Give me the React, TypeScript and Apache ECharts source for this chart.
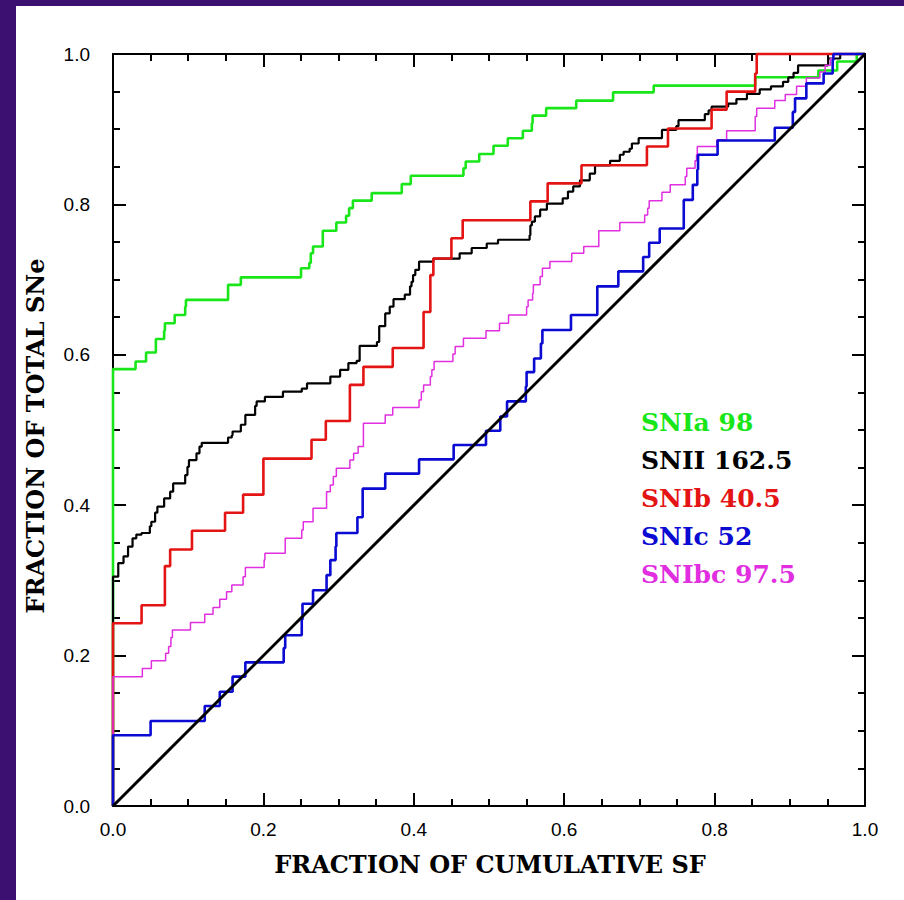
import React, { useEffect, useRef } from "react";
import * as echarts from "echarts";

// ---- data (fraction of cumulative SF at each jump, fraction of SNe after the jump) ----
const snIaX = [0, 0, 0.030, 0.044, 0.057, 0.068, 0.069, 0.082, 0.096, 0.097, 0.153, 0.170, 0.250, 0.261, 0.263, 0.266, 0.279, 0.297, 0.310, 0.314, 0.319, 0.344, 0.384, 0.396, 0.466, 0.469, 0.487, 0.506, 0.525, 0.545, 0.557, 0.558, 0.576, 0.616, 0.665, 0.719, 0.854, 0.938, 0.963, 0.989, 1.0];
const snIaY = [0, 0.581, 0.591, 0.603, 0.621, 0.632, 0.642, 0.653, 0.664, 0.673, 0.693, 0.703, 0.715, 0.722, 0.735, 0.744, 0.765, 0.776, 0.785, 0.795, 0.805, 0.815, 0.827, 0.838, 0.848, 0.857, 0.867, 0.878, 0.888, 0.898, 0.908, 0.918, 0.928, 0.938, 0.949, 0.958, 0.969, 0.978, 0.990, 1.0, 1.0];

const snIIX = [0, 0, 0.007, 0.014, 0.020, 0.026, 0.031, 0.038, 0.049, 0.051, 0.056, 0.059, 0.068, 0.076, 0.080, 0.096, 0.099, 0.101, 0.111, 0.115, 0.118, 0.153, 0.158, 0.159, 0.170, 0.176, 0.189, 0.191, 0.202, 0.226, 0.251, 0.258, 0.289, 0.302, 0.313, 0.324, 0.328, 0.351, 0.354, 0.362, 0.368, 0.373, 0.388, 0.395, 0.397, 0.399, 0.402, 0.407, 0.426, 0.461, 0.477, 0.497, 0.512, 0.554, 0.555, 0.557, 0.561, 0.568, 0.577, 0.598, 0.605, 0.612, 0.621, 0.634, 0.641, 0.661, 0.674, 0.679, 0.687, 0.690, 0.699, 0.730, 0.749, 0.752, 0.787, 0.792, 0.796, 0.818, 0.829, 0.843, 0.860, 0.875, 0.891, 0.898, 0.905, 0.911, 0.951, 0.967, 1.0];
const snIIY = [0, 0.305, 0.323, 0.332, 0.345, 0.356, 0.361, 0.363, 0.372, 0.378, 0.390, 0.398, 0.409, 0.418, 0.429, 0.440, 0.451, 0.460, 0.469, 0.478, 0.483, 0.490, 0.493, 0.498, 0.507, 0.520, 0.532, 0.538, 0.544, 0.551, 0.555, 0.562, 0.571, 0.580, 0.589, 0.592, 0.612, 0.617, 0.638, 0.655, 0.664, 0.674, 0.680, 0.691, 0.697, 0.706, 0.713, 0.724, 0.728, 0.735, 0.742, 0.748, 0.753, 0.759, 0.772, 0.777, 0.784, 0.793, 0.801, 0.808, 0.817, 0.824, 0.832, 0.841, 0.852, 0.858, 0.866, 0.870, 0.874, 0.881, 0.888, 0.899, 0.904, 0.912, 0.920, 0.925, 0.930, 0.934, 0.940, 0.947, 0.953, 0.957, 0.963, 0.969, 0.975, 0.985, 0.994, 1.0, 1.0];

const snIbX = [0, 0, 0.038, 0.069, 0.076, 0.105, 0.149, 0.173, 0.200, 0.264, 0.283, 0.315, 0.333, 0.372, 0.413, 0.422, 0.426, 0.450, 0.465, 0.555, 0.578, 0.623, 0.710, 0.738, 0.796, 0.816, 0.854, 0.856, 1.0];
const snIbY = [0, 0.243, 0.267, 0.319, 0.341, 0.366, 0.390, 0.414, 0.462, 0.487, 0.512, 0.560, 0.584, 0.609, 0.657, 0.706, 0.728, 0.755, 0.779, 0.804, 0.828, 0.852, 0.877, 0.901, 0.926, 0.950, 0.974, 1.0, 1.0];

const snIcX = [0, 0, 0.050, 0.122, 0.142, 0.159, 0.176, 0.227, 0.229, 0.251, 0.252, 0.266, 0.284, 0.289, 0.296, 0.297, 0.325, 0.332, 0.362, 0.407, 0.453, 0.496, 0.515, 0.524, 0.549, 0.550, 0.560, 0.569, 0.571, 0.609, 0.644, 0.672, 0.705, 0.713, 0.727, 0.759, 0.771, 0.777, 0.778, 0.804, 0.880, 0.904, 0.907, 0.922, 0.945, 0.957, 0.958, 1.0];
const snIcY = [0, 0.094, 0.113, 0.133, 0.152, 0.172, 0.191, 0.210, 0.227, 0.248, 0.269, 0.287, 0.307, 0.327, 0.345, 0.363, 0.384, 0.422, 0.442, 0.461, 0.480, 0.499, 0.518, 0.538, 0.558, 0.577, 0.595, 0.615, 0.633, 0.653, 0.691, 0.711, 0.730, 0.749, 0.768, 0.806, 0.826, 0.846, 0.866, 0.885, 0.902, 0.923, 0.941, 0.961, 0.974, 0.992, 1.0, 1.0];

const snIbcX = [0, 0, 0.039, 0.051, 0.070, 0.074, 0.077, 0.079, 0.103, 0.122, 0.133, 0.142, 0.151, 0.158, 0.173, 0.176, 0.201, 0.202, 0.229, 0.251, 0.253, 0.266, 0.284, 0.289, 0.293, 0.297, 0.315, 0.320, 0.326, 0.333, 0.362, 0.372, 0.407, 0.410, 0.413, 0.422, 0.424, 0.427, 0.452, 0.455, 0.466, 0.496, 0.514, 0.526, 0.550, 0.552, 0.558, 0.559, 0.568, 0.571, 0.581, 0.610, 0.626, 0.646, 0.674, 0.707, 0.711, 0.713, 0.730, 0.741, 0.761, 0.763, 0.774, 0.776, 0.777, 0.803, 0.816, 0.854, 0.856, 0.880, 0.894, 0.909, 0.922, 0.940, 0.947, 0.954, 0.958, 1.0];
const snIbcY = [0, 0.172, 0.183, 0.193, 0.203, 0.212, 0.224, 0.234, 0.244, 0.255, 0.264, 0.275, 0.285, 0.294, 0.305, 0.317, 0.327, 0.336, 0.356, 0.367, 0.378, 0.396, 0.418, 0.427, 0.438, 0.449, 0.460, 0.469, 0.478, 0.509, 0.520, 0.530, 0.540, 0.551, 0.560, 0.571, 0.580, 0.591, 0.601, 0.611, 0.622, 0.632, 0.642, 0.653, 0.664, 0.673, 0.682, 0.693, 0.704, 0.715, 0.724, 0.735, 0.744, 0.765, 0.776, 0.786, 0.795, 0.805, 0.816, 0.826, 0.837, 0.848, 0.858, 0.866, 0.877, 0.886, 0.898, 0.917, 0.928, 0.938, 0.946, 0.957, 0.968, 0.976, 0.985, 0.994, 1.0, 1.0];

const diagonalX = [0, 1];
const diagonalY = [0, 1];

const legendNames = ["SNIa", "SNII", "SNIb", "SNIc", "SNIbc"];
const legendValues = ["98", "162.5", "40.5", "52", "97.5"];
const legendColors = ["#19e619", "#000000", "#e41414", "#0a0ad2", "#e02ee0"];

const xTitle = "FRACTION OF CUMULATIVE SF";
const yTitle = "FRACTION OF TOTAL SNe";

const zip = (xs: number[], ys: number[]) => xs.map((x, i) => [x, ys[i]]);

const SERIF = "'DejaVu Serif', serif";
const SANS = "'Liberation Sans', Arial, sans-serif";

function makeAxis(kind: "x" | "y", position: string, showLabels: boolean) {
  return {
    type: "value",
    min: 0,
    max: 1,
    interval: 0.2,
    position,
    gridIndex: 0,
    axisLine: { show: true, onZero: false, lineStyle: { color: "#000", width: 2 } },
    axisTick: { show: true, inside: true, length: 13, lineStyle: { color: "#000", width: 2 } },
    minorTick: { show: true, splitNumber: 4, length: 7, lineStyle: { color: "#000", width: 2 } },
    splitLine: { show: false },
    minorSplitLine: { show: false },
    axisLabel: {
      show: showLabels,
      formatter: (v: number) => v.toFixed(1),
      color: "#000",
      fontFamily: SANS,
      fontSize: 19,
      margin: kind === "x" ? 14 : 23,
    },
  };
}

const stepSeries = (data: number[][], color: string, width: number) => ({
  type: "line",
  data,
  step: "end",
  showSymbol: false,
  symbol: "none",
  clip: false,
  lineStyle: { color, width },
  xAxisIndex: 0,
  yAxisIndex: 0,
});

export default function App() {
  const ref = useRef<HTMLDivElement>(null);
  useEffect(() => {
    if (!ref.current) return;
    const chart = echarts.init(ref.current, null, { renderer: "svg" });
    const legendTexts = legendNames.map((n, i) => ({
      type: "text",
      x: 625,
      y: 416 + i * 38.2,
      style: {
        text: `${n} ${legendValues[i]}`,
        fill: legendColors[i],
        fontFamily: SERIF,
        fontWeight: "bold",
        fontSize: 25,
        textAlign: "left",
        textVerticalAlign: "middle",
      },
    }));
    chart.setOption({
      animation: false,
      backgroundColor: "#ffffff",
      grid: { left: 97, top: 48, width: 752, height: 752, containLabel: false },
      xAxis: [makeAxis("x", "bottom", true), makeAxis("x", "top", false)],
      yAxis: [makeAxis("y", "left", true), makeAxis("y", "right", false)],
      series: [
        stepSeries(zip(snIaX, snIaY), legendColors[0], 2.6),
        stepSeries(zip(snIIX, snIIY), legendColors[1], 2.2),
        stepSeries(zip(snIbX, snIbY), legendColors[2], 2.6),
        stepSeries(zip(snIbcX, snIbcY), legendColors[4], 1.5),
        stepSeries(zip(snIcX, snIcY), legendColors[3], 2.6),
        {
          type: "line",
          data: zip(diagonalX, diagonalY),
          showSymbol: false,
          symbol: "none",
          clip: false,
          lineStyle: { color: "#000", width: 3 },
        },
      ],
      graphic: [
        {
          type: "text",
          x: 474,
          y: 858,
          style: {
            text: xTitle,
            fill: "#000",
            fontFamily: SERIF,
            fontWeight: "bold",
            fontSize: 24,
            textAlign: "center",
            textVerticalAlign: "middle",
          },
        },
        {
          type: "text",
          x: 19,
          y: 430,
          rotation: Math.PI / 2,
          style: {
            text: yTitle,
            fill: "#000",
            fontFamily: SERIF,
            fontWeight: "bold",
            fontSize: 24,
            textAlign: "center",
            textVerticalAlign: "middle",
          },
        },
        ...legendTexts,
      ],
    });
    return () => chart.dispose();
  }, []);
  return (
    <div
      style={{
        position: "fixed",
        left: 0,
        top: 0,
        width: 904,
        height: 900,
        background: "#3b1070",
        overflow: "hidden",
      }}
    >
      <div
        ref={ref}
        style={{ position: "absolute", left: 16, top: 6, width: 888, height: 894, background: "#fff" }}
      />
    </div>
  );
}
